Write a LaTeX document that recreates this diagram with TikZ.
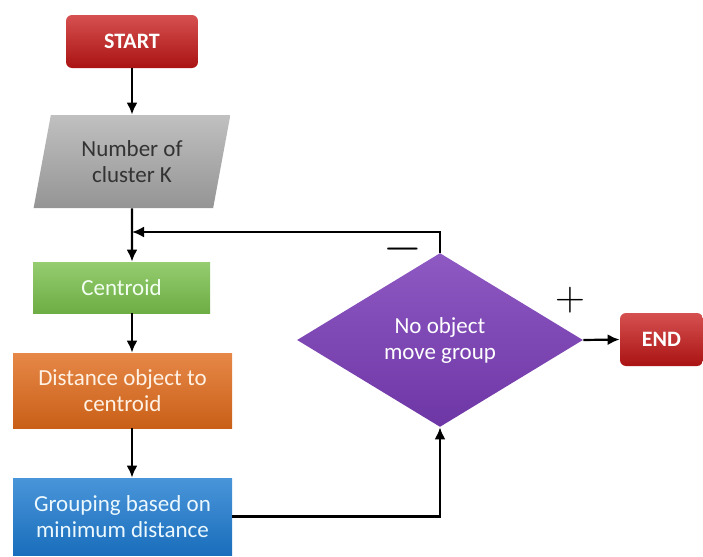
\documentclass[tikz,border=0pt]{standalone}
\usepackage{fontspec}
\setmainfont{Carlito}
\usepackage{tikz}
\usetikzlibrary{positioning, shapes.geometric, arrows.meta}

\definecolor{redbox}{RGB}{200,22,22}
\definecolor{graybox}{RGB}{165,165,165}
\definecolor{greenbox}{RGB}{122,192,76}
\definecolor{orangebox}{RGB}{224,106,26}
\definecolor{bluebox}{RGB}{28,122,208}
\definecolor{purplebox}{RGB}{122,60,184}

\begin{document}
\begin{tikzpicture}[x=0.5pt, y=-0.5pt, >={Latex[length=6pt,width=5.5pt]},
  box/.style={rectangle, inner sep=2pt, align=center, font=\fontsize{11.5}{13}\selectfont},
  flow/.style={->, line width=1.1pt}]
\useasboundingbox (0,0) rectangle (703,557);

\node (start) [box, rounded corners=3pt, top color=redbox!75!white, bottom color=redbox!85!black, text=white, font=\bfseries\fontsize{11}{13}\selectfont, minimum width=66pt, minimum height=26.5pt] at (132,41.5) {START};
\node (cluster) [box, trapezium, trapezium left angle=77, trapezium right angle=103, trapezium stretches=true, top color=graybox!70!white, bottom color=graybox!90!black, text=black!80, minimum width=98.5pt, minimum height=46.5pt] at (132,161.5) {Number of\\cluster K};
\node (centroid) [box, top color=greenbox!80!white, bottom color=greenbox!90!black, text=green!5!white, minimum width=88.5pt, minimum height=25.5pt] at (121.5,287.5) {Centroid};
\node (dist) [box, top color=orangebox!80!white, bottom color=orangebox!90!black, text=orange!10!white, minimum width=109.5pt, minimum height=37.5pt] at (122.5,390.5) {Distance object to\\centroid};
\node (group) [box, top color=bluebox!80!white, bottom color=bluebox!90!black, text=cyan!8!white, minimum width=109.5pt, minimum height=38.5pt] at (122.5,516.5) {Grouping based on\\minimum distance};
\node (decide) [box, diamond, top color=purplebox!85!white, bottom color=purplebox!90!black, text=white, minimum width=143pt, minimum height=84pt] at (440,340) {No object\\move group};
\node (stop) [box, rounded corners=3pt, top color=redbox!75!white, bottom color=redbox!85!black, text=white, font=\bfseries\fontsize{11}{13}\selectfont, minimum width=41.5pt, minimum height=26.5pt] at (661.5,339.5) {END};
\coordinate (join) at (132,232);

\node (minus) at (403,249) {\fontsize{24}{24}\selectfont$-$};
\node (plus) at (570,300) {\fontsize{21}{21}\selectfont$+$};

\draw[flow] (start) -- (cluster);
\draw[flow] (cluster) -- (cluster |- centroid.north);
\draw[flow] (cluster |- centroid.south) -- (cluster |- dist.north);
\draw[flow] (cluster |- dist.south) -- (cluster |- group.north);
\draw[flow] (group.east) -| (decide.south);
\draw[flow] (decide.north) |- (join);
\draw[flow] (decide.east) -- (stop.west);
\end{tikzpicture}
\end{document}
